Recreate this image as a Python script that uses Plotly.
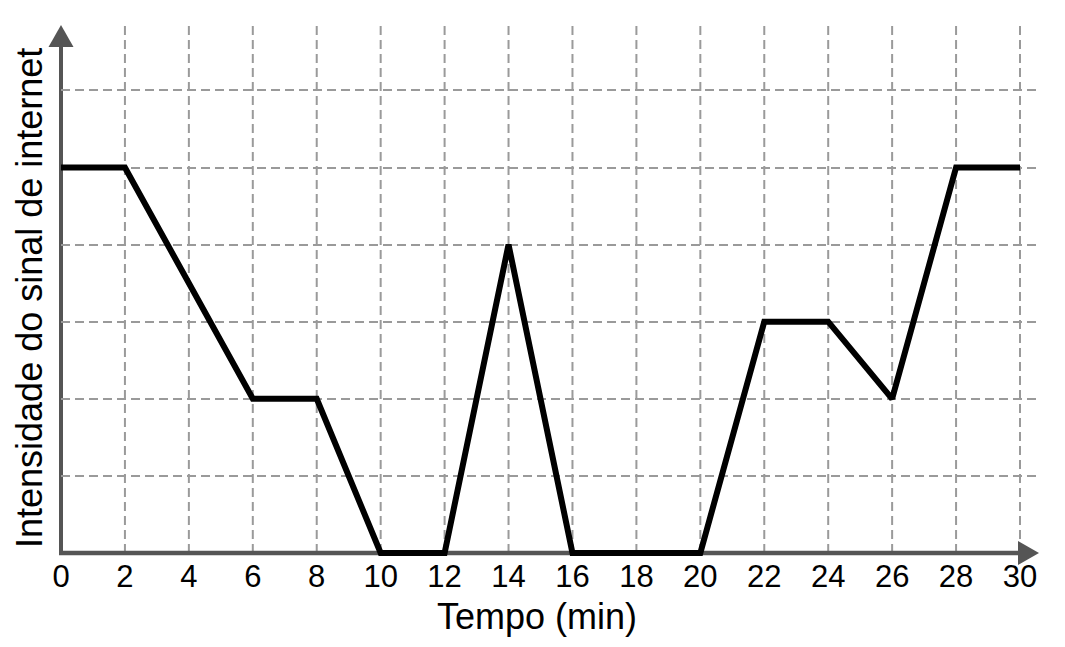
import plotly.graph_objects as go

tempo = [0, 2, 6, 8, 10, 12, 14, 16, 20, 22, 24, 26, 28, 30]
sinal = [5, 5, 2, 2, 0, 0, 4, 0, 0, 3, 3, 2, 5, 5]
x_ticks = list(range(0, 31, 2))
y_grid = [1, 2, 3, 4, 5, 6]

W, H = 1065, 647
OFF = 8                                # page body margin of the html page
# plot geometry in screen pixels
x0_px, x30_px = 61, 1020
sx = (x30_px - x0_px) / 30.0          # px per x unit
sy = 77.1                              # px per y unit
y0_px = 553                            # pixel row of y = 0
top_px, right_px = 25, 1040
bot_px = y0_px + 5

ml, mt = x0_px - OFF, top_px - OFF
mr, mb = W - (right_px - OFF), H - (bot_px - OFF)
pw, ph = right_px - x0_px, bot_px - top_px
xr = [0, pw / sx]
yr = [-(bot_px - y0_px) / sy, (y0_px - top_px) / sy]


def px(x):   # screen pixel column -> paper x
    return (x - x0_px) / pw


def py(y):   # screen pixel row -> paper y
    return (bot_px - y) / ph


AX = "#555555"
GRID = "#9a9a9a"
DASH = "9px,5px"

fig = go.Figure()
fig.add_trace(go.Scatter(x=tempo, y=sinal, mode="lines",
                         line=dict(color="black", width=6), hoverinfo="skip",
                         showlegend=False))

# vertical dashed grid lines (from the axis up)
y_axis_paper = py(y0_px)
for t in x_ticks[1:]:
    fig.add_shape(type="line", xref="x", yref="paper", x0=t, x1=t,
                  y0=y_axis_paper, y1=1, layer="below",
                  line=dict(color=GRID, width=2, dash=DASH))

# axis lines
fig.add_shape(type="line", xref="paper", yref="paper",
              x0=px(x0_px - 2), x1=px(1020), y0=py(y0_px), y1=py(y0_px),
              line=dict(color=AX, width=4.5), layer="below")
fig.add_shape(type="line", xref="paper", yref="paper",
              x0=px(x0_px), x1=px(x0_px), y0=py(y0_px + 2), y1=py(45),
              line=dict(color=AX, width=4), layer="below")
# arrow heads
fig.add_shape(type="path", xref="paper", yref="paper",
              path=f"M {px(1018)} {py(y0_px-12)} L {px(1039)} {py(y0_px)} L {px(1018)} {py(y0_px+12)} Z",
              fillcolor=AX, line=dict(color=AX, width=0), layer="below")
fig.add_shape(type="path", xref="paper", yref="paper",
              path=f"M {px(x0_px-12.5)} {py(47)} L {px(x0_px)} {py(25)} L {px(x0_px+12.5)} {py(47)} Z",
              fillcolor=AX, line=dict(color=AX, width=0), layer="below")

# axis titles
fig.add_annotation(text="Tempo (min)", xref="paper", yref="paper",
                   x=px(537), y=py(616), xanchor="center", yanchor="middle",
                   showarrow=False, font=dict(size=36, color="black"))
fig.add_annotation(text="Intensidade do sinal de internet", xref="paper", yref="paper",
                   x=px(29), y=py(298), xanchor="center", yanchor="middle",
                   textangle=-90, showarrow=False, font=dict(size=36, color="black"))

fig.update_layout(
    width=W, height=H,
    margin=dict(l=ml, r=mr, t=mt, b=mb, pad=0),
    paper_bgcolor="white", plot_bgcolor="white",
    font=dict(family="Liberation Sans, Arial, sans-serif", color="black", size=31),
    xaxis=dict(range=xr, tickvals=x_ticks, ticktext=[str(v) for v in x_ticks],
               anchor="free", position=y_axis_paper,
               showgrid=False, zeroline=False, showline=False, ticks="",
               ticklabelstandoff=2, tickfont=dict(size=31),
               automargin=False, fixedrange=True),
    yaxis=dict(range=yr, tickvals=y_grid, showticklabels=False,
               showgrid=True, gridcolor=GRID, gridwidth=2, griddash=DASH,
               zeroline=False, showline=False, ticks="",
               automargin=False, fixedrange=True),
)
fig.write_html("out.html")
